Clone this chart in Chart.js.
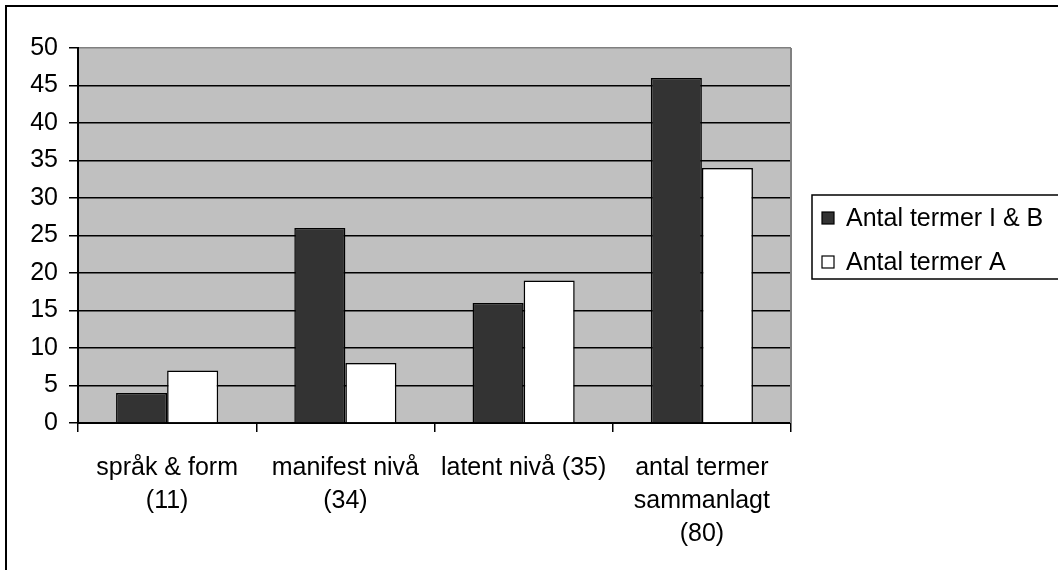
<!DOCTYPE html>
<html>
<head>
<meta charset="utf-8">
<script src="https://cdn.jsdelivr.net/npm/chart.js@4.4.1/dist/chart.umd.min.js"></script>
<style>
    body { margin: 0; background: #fff; }
    #wrap { width: 1058px; height: 570px; }
</style>
</head>
<body>
<div id="wrap"><canvas id="chart" width="1058" height="570"></canvas></div>
<script>
const categories = [['språk & form', '(11)'], ['manifest nivå', '(34)'], ['latent nivå (35)'], ['antal termer', 'sammanlagt', '(80)']]
const termerIB = [4, 26, 16, 46]
const termerA = [7, 8, 19, 34]
const seriesNames = ['Antal termer I & B', 'Antal termer A']
const yMin = 0
const yMax = 50
const yStep = 5

const font = "'Liberation Sans', Arial, sans-serif"

// frame + grey plot background
const background = {
    id: 'background',
    beforeDraw(chart) {
        const ctx = chart.ctx
        const a = chart.chartArea
        ctx.save()
        ctx.fillStyle = '#fff'
        ctx.fillRect(0, 0, chart.width, chart.height)
        ctx.strokeStyle = '#000'
        ctx.lineWidth = 2
        ctx.beginPath()
        ctx.moveTo(6, chart.height)
        ctx.lineTo(6, 6)
        ctx.lineTo(chart.width, 6)
        ctx.stroke()
        ctx.fillStyle = '#c0c0c0'
        ctx.fillRect(a.left, a.top, a.right - a.left, a.bottom - a.top)
        ctx.restore()
    },
    beforeDatasetsDraw(chart) {
        const ctx = chart.ctx
        const a = chart.chartArea
        ctx.save()
        ctx.strokeStyle = '#808080'
        ctx.lineWidth = 2
        ctx.beginPath()
        ctx.moveTo(a.right, a.top)
        ctx.lineTo(a.right, a.bottom)
        ctx.stroke()
        ctx.restore()
    }
}

// boxed legend on the right
const boxLegend = {
    id: 'boxLegend',
    afterDraw(chart) {
        const ctx = chart.ctx
        const x = 812, top = 195, h = 84
        ctx.save()
        ctx.strokeStyle = '#000'
        ctx.lineWidth = 1.5
        ctx.strokeRect(x, top, chart.width + 10 - x, h)
        ctx.font = '25px ' + font
        ctx.textBaseline = 'middle'
        chart.data.datasets.forEach((ds, i) => {
            const cy = top + 23 + i * 44
            ctx.fillStyle = ds.backgroundColor
            ctx.fillRect(822, cy - 6, 12, 12)
            ctx.lineWidth = 1.2
            ctx.strokeStyle = '#000'
            ctx.strokeRect(822, cy - 6, 12, 12)
            ctx.fillStyle = '#000'
            ctx.fillText(ds.label, 846, cy + 1)
        })
        ctx.restore()
    }
}

new Chart(document.querySelector('#chart'), {
    type: 'bar',
    data: {
        labels: categories,
        datasets: [
            {
                label: seriesNames[0],
                data: termerIB,
                backgroundColor: '#333333',
                borderColor: '#000',
                borderWidth: 1.5
            },
            {
                label: seriesNames[1],
                data: termerA,
                backgroundColor: '#ffffff',
                borderColor: '#000',
                borderWidth: 1.5
            }
        ]
    },
    options: {
        responsive: false,
        animation: false,
        layout: { padding: { left: 0, right: 267, top: 48, bottom: 0 } },
        datasets: { bar: { categoryPercentage: 0.573, barPercentage: 1 } },
        plugins: { legend: { display: false }, tooltip: { enabled: false } },
        scales: {
            x: {
                afterFit: (scale) => { scale.height = 147 },
                grid: { display: true, drawOnChartArea: false, offset: true, tickLength: 9, color: '#000', lineWidth: 1.5 },
                border: { color: '#000', width: 2 },
                ticks: { color: '#000', padding: 20, font: { family: font, size: 25, lineHeight: 1.32 } }
            },
            y: {
                min: yMin,
                max: yMax,
                afterFit: (scale) => { scale.width = 78 },
                grid: {
                    color: (c) => c.tick && c.tick.value === yMax ? '#808080' : '#000',
                    tickColor: '#000',
                    tickLength: 9,
                    lineWidth: 1.5
                },
                border: { color: '#000', width: 2 },
                ticks: { stepSize: yStep, color: '#000', padding: 11, font: { family: font, size: 25 } }
            }
        }
    },
    plugins: [background, boxLegend]
})
</script>
</body>
</html>
